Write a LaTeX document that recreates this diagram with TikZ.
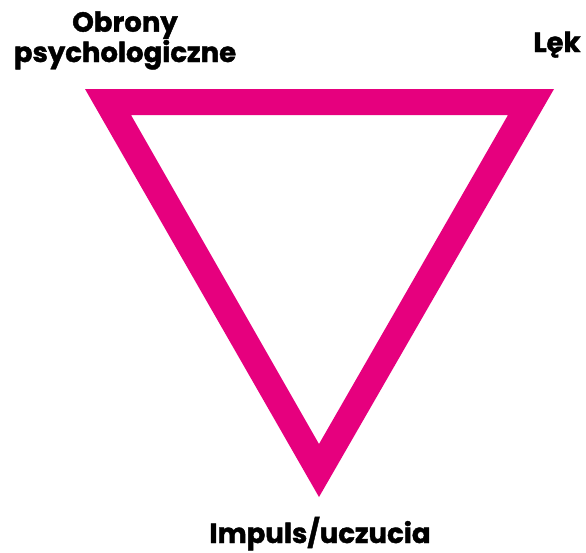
\documentclass[tikz,border=0pt]{standalone}
\usepackage{fontspec}
\setmainfont{Poppins}[BoldFeatures={FakeBold=1.5}]
\definecolor{tri}{HTML}{E6007E}
\begin{document}
\begin{tikzpicture}[x=1pt,y=-1pt,
  lbl/.style={font=\fontsize{27.5}{29}\selectfont\bfseries, text=black, inner sep=0pt}]
\useasboundingbox (0,0) rectangle (586,552);
\fill[white] (0,0) rectangle (586,552);
\fill[tri,even odd rule] (85,89) -- (554,89) -- (319,497) -- cycle
  (131,115) -- (508,115) -- (319,444) -- cycle;
\coordinate (t1) at (125,62);
\coordinate (t2) at (557,52);
\coordinate (t3) at (320,543);
\node[lbl, anchor=base, align=center] (obr) at (t1) {Obrony\\psychologiczne};
\node[lbl, anchor=base] (lek) at (t2) {Lęk};
\node[lbl, anchor=base] (imp) at (t3) {Impuls/uczucia};
\end{tikzpicture}
\end{document}
